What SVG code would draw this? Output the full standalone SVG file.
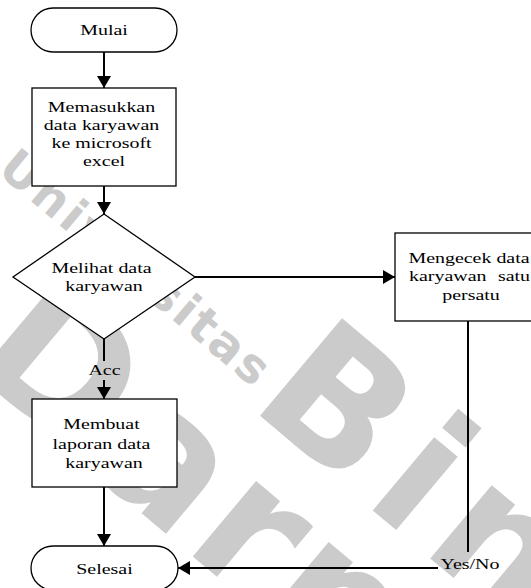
<svg xmlns="http://www.w3.org/2000/svg" width="531" height="588" viewBox="0 0 531 588">
  <style>
    .shape { fill: #fff; stroke: #000; stroke-width: 1.3; }
    .wire { fill: none; stroke: #000; stroke-width: 2; }
    .t { font-family: "Liberation Serif", "Times New Roman", serif; font-size: 15px; fill: #000; text-anchor: middle; }
    .wm { fill: #cbcbcb; font-family: "DejaVu Sans", sans-serif; font-weight: bold; }
  </style>
  <defs>
    <marker id="arrow" markerUnits="userSpaceOnUse" markerWidth="12" markerHeight="14" viewBox="0 0 12 14" refX="12" refY="7" orient="auto">
      <path d="M0,0 L12,7 L0,14 z" fill="#000"/>
    </marker>
  </defs>

  <rect width="531" height="588" fill="#fff"/>

  <!-- background watermark lettering -->
  <g id="watermark" class="wm" transform="translate(-4 172) rotate(40)">
    <text x="0" y="0" font-size="48" letter-spacing="3">Universitas</text>
    <text x="343" y="17" font-size="175" letter-spacing="15">Bina</text>
    <text x="100" y="168" font-size="180" letter-spacing="6">Darma</text>
  </g>

  <!-- connectors -->
  <g id="connectors">
    <line class="wire" x1="104" y1="52" x2="104" y2="88" marker-end="url(#arrow)"/>
    <line class="wire" x1="104" y1="186" x2="104" y2="214" marker-end="url(#arrow)"/>
    <line class="wire" x1="195" y1="277" x2="395" y2="277" marker-end="url(#arrow)"/>
    <line class="wire" x1="104" y1="339" x2="104" y2="361"/>
    <line class="wire" x1="104" y1="380" x2="104" y2="399" marker-end="url(#arrow)"/>
    <line class="wire" x1="104" y1="487" x2="104" y2="546" marker-end="url(#arrow)"/>
    <line class="wire" x1="468" y1="321" x2="468" y2="552"/>
    <line class="wire" x1="438" y1="568" x2="178" y2="568" marker-end="url(#arrow)"/>
    <text class="t" transform="matrix(1.33 0 0 1 104.5 0)" y="375">Acc</text>
    <text class="t" transform="matrix(1.33 0 0 1 470 0)" y="569">Yes/No</text>
  </g>

  <!-- start -->
  <g id="mulai">
    <rect class="shape" x="31" y="8" width="146" height="44" rx="22" ry="22"/>
    <text class="t" transform="matrix(1.33 0 0 1 104 0)" y="35">Mulai</text>
  </g>

  <!-- input employee data -->
  <g id="memasukkan">
    <rect class="shape" x="32" y="88" width="144" height="98"/>
    <text class="t" transform="matrix(1.33 0 0 1 104 0)">
      <tspan x="0" y="112.5">Memasukkan</tspan>
      <tspan x="0" y="130">data karyawan</tspan>
      <tspan x="0" y="148">ke microsoft</tspan>
      <tspan x="0" y="165.7">excel</tspan>
    </text>
  </g>

  <!-- decision -->
  <g id="melihat">
    <polygon class="shape" points="104,214 195,277 104,339 13,277"/>
    <text class="t" transform="matrix(1.33 0 0 1 104 0)">
      <tspan x="0" y="273">Melihat data</tspan>
      <tspan x="0" y="291">karyawan</tspan>
    </text>
  </g>

  <!-- check each employee -->
  <g id="mengecek">
    <rect class="shape" x="395" y="233" width="146" height="88"/>
    <text class="t" transform="matrix(1.33 0 0 1 469 0)" y="263">Mengecek data</text>
    <text class="t" transform="matrix(1.33 0 0 1 409 0)" y="281.5" style="text-anchor:start">karyawan</text>
    <text class="t" transform="matrix(1.33 0 0 1 530 0)" y="281.5" style="text-anchor:end">satu</text>
    <text class="t" transform="matrix(1.33 0 0 1 471 0)" y="300">persatu</text>
  </g>

  <!-- make report -->
  <g id="membuat">
    <rect class="shape" x="32" y="399" width="145" height="88"/>
    <text class="t" transform="matrix(1.33 0 0 1 104 0)">
      <tspan x="0" y="429">Membuat</tspan>
      <tspan x="0" y="449">laporan data</tspan>
      <tspan x="0" y="468.5">karyawan</tspan>
    </text>
  </g>

  <!-- end -->
  <g id="selesai">
    <rect class="shape" x="31" y="546" width="147" height="44" rx="22" ry="22"/>
    <text class="t" transform="matrix(1.33 0 0 1 104.5 0)" y="574">Selesai</text>
  </g>
</svg>
